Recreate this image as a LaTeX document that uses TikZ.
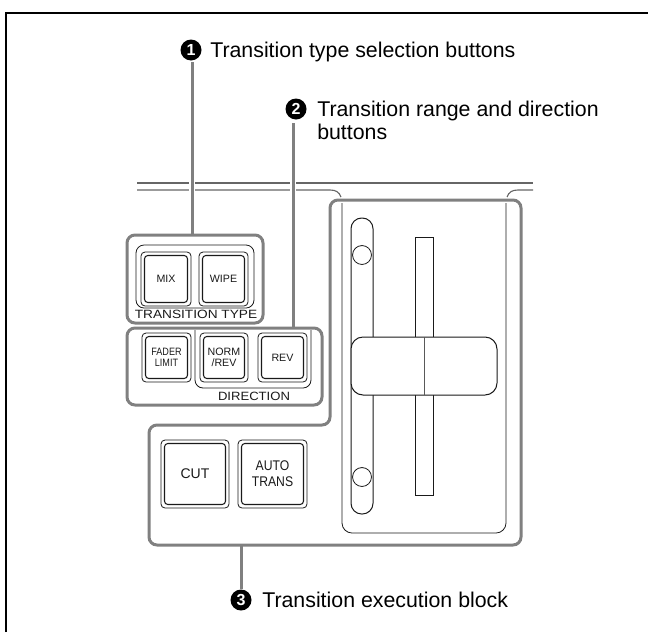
\documentclass[tikz,border=0pt]{standalone}
\usepackage{fontspec}
\setmainfont{Liberation Sans}
\definecolor{callgray}{HTML}{808080}
\definecolor{ink}{HTML}{1A1A1A}
\tikzset{
  x=0.75pt,y=-0.75pt,
  panel line/.style={draw=black!60,line width=0.85pt},
  thin line/.style={draw=ink,line width=0.75pt},
  fine line/.style={draw=ink,line width=0.6pt},
  callout/.style={draw=callgray,line width=2.25pt,rounded corners=6pt},
  callnode/.style={callout,inner sep=0pt,outer sep=0pt,anchor=north west},
  leader/.style={draw=callgray,line width=2.25pt},
  halo/.style={draw=white,line width=4.5pt},
  num/.style={circle,fill=black,text=white,inner sep=0pt,minimum size=15.75pt,font=\fontsize{12}{12}\selectfont\bfseries},
  lab/.style={anchor=base west,inner sep=0pt,font=\fontsize{16}{17.5}\selectfont,align=left},
  btn/.style={draw=ink,line width=0.6pt,rounded corners=3pt,inner sep=0pt,outer sep=0pt},
  btninner/.style={draw=ink,line width=0.8pt,rounded corners=2.5pt},
  btntext/.style={inner sep=0pt,align=center,text=ink,font=\fontsize{8}{8.3}\selectfont},
  bigtext/.style={inner sep=0pt,align=center,text=ink,font=\fontsize{10.5}{12}\selectfont},
  paneltext/.style={inner sep=0pt,text=ink,font=\fontsize{9}{10}\selectfont},
}
\newcommand{\dblbutton}[6]{% name, x0, y0, x1, y1, text
  \node[btn,minimum width=0.75pt*(#4-#2),minimum height=0.75pt*(#5-#3),anchor=north west] (#1) at (#2,#3) {};
  \draw[btninner] (#2+3.5,#3+3.5) rectangle (#4-3.5,#5-3.5);
  \node[btntext] (#1t) at (#1.center) {#6};
}
\begin{document}
\begin{tikzpicture}
\useasboundingbox (0,0) rectangle (648,632);
\fill[white] (0,0) rectangle (648,632);
\draw[black,line width=1.5pt] (6,632) -- (6,13) -- (648,13);

% panel lines
\draw[panel line] (137,183) -- (533,183);
\draw[panel line] (137,190) -- (330,190) .. controls (336,190) and (339,192) .. (341,197);
\draw[panel line] (533,190) -- (518,190) .. controls (512,190) and (509,192) .. (507,197);
\draw[fine line,rounded corners=7.5pt] (342,203) -- (342,533) -- (506,533) -- (506,203);

% fader
\draw[thin line,rounded corners=8pt] (351,218) rectangle (373,514);
\draw[fine line,fill=white] (362,255) circle[radius=7.1pt];
\draw[fine line,fill=white] (362,477) circle[radius=7.1pt];
\draw[thin line] (415,237) rectangle (433,495);
\draw[thin line,fill=white,rounded corners=9pt] (351,337) rectangle (497,395);
\draw[fine line,draw=black!65] (424,337) -- (424,395);

% buttons
\draw[fine line,rounded corners=6pt] (136,245) rectangle (254,308);
\dblbutton{mix}{141}{252}{191}{306}{MIX}
\dblbutton{wipe}{199}{252}{248}{306}{WIPE}
\node[paneltext] (tt) at (196,314) {\scalebox{1.14}[1]{TRANSITION TYPE}};

\dblbutton{fader}{142}{333}{191}{382}{\scalebox{0.85}[1]{FADER}\\\scalebox{0.85}[1]{LIMIT}}
\draw[fine line,rounded corners=6pt] (195,330) -- (195,388) -- (311,388) -- (311,330);
\dblbutton{norm}{200}{333}{248}{382}{NORM\\/REV}
\dblbutton{rev}{258}{333}{307}{382}{REV}
\node[paneltext] (dir) at (254,396) {\scalebox{1.09}[1]{DIRECTION}};

\dblbutton{cut}{161}{440}{229}{508}{}
\node[bigtext] (cutt2) at (cut.center) {CUT};
\dblbutton{auto}{238}{440}{307}{508}{}
\node[bigtext] (autot2) at (auto.center) {\scalebox{0.87}[1]{AUTO}\\\scalebox{0.87}[1]{TRANS}};

% labels
\node[num] (n1) at (191,50) {1};
\node[lab] (l1) at (210,57) {Transition type selection buttons};
\node[num] (n2) at (296,109) {2};
\node[lab] (l2) at (317,139.5) {Transition range and direction\\buttons};
\node[num] (n3) at (241,600) {3};
\node[lab] (l3) at (262,607) {Transition execution block};

% callout boxes
\node[callnode,minimum width=102pt,minimum height=66pt] (box1) at (127,235) {};
\node[callnode,minimum width=146.25pt,minimum height=57.75pt] (box2) at (127,328) {};
\draw[callout] (330,300) -- (330,200) -- (521,200) -- (521,545) -- (149,545) -- (149,425) -- (330,425) -- cycle;
\coordinate (box3s) at (241,545);

% leaders
\coordinate (b1t) at (192,235);
\coordinate (b2t) at (293,328);
\coordinate (s1) at (192,62);
\coordinate (s2) at (293,123);
\draw[halo] (192,175) -- (192,198);
\draw[halo] (293,175) -- (293,198);
\draw[leader] (s1) -- (b1t);
\draw[leader] (s2) -- (b2t);
\draw[leader] (box3s) -- (n3.north);
\end{tikzpicture}
\end{document}
